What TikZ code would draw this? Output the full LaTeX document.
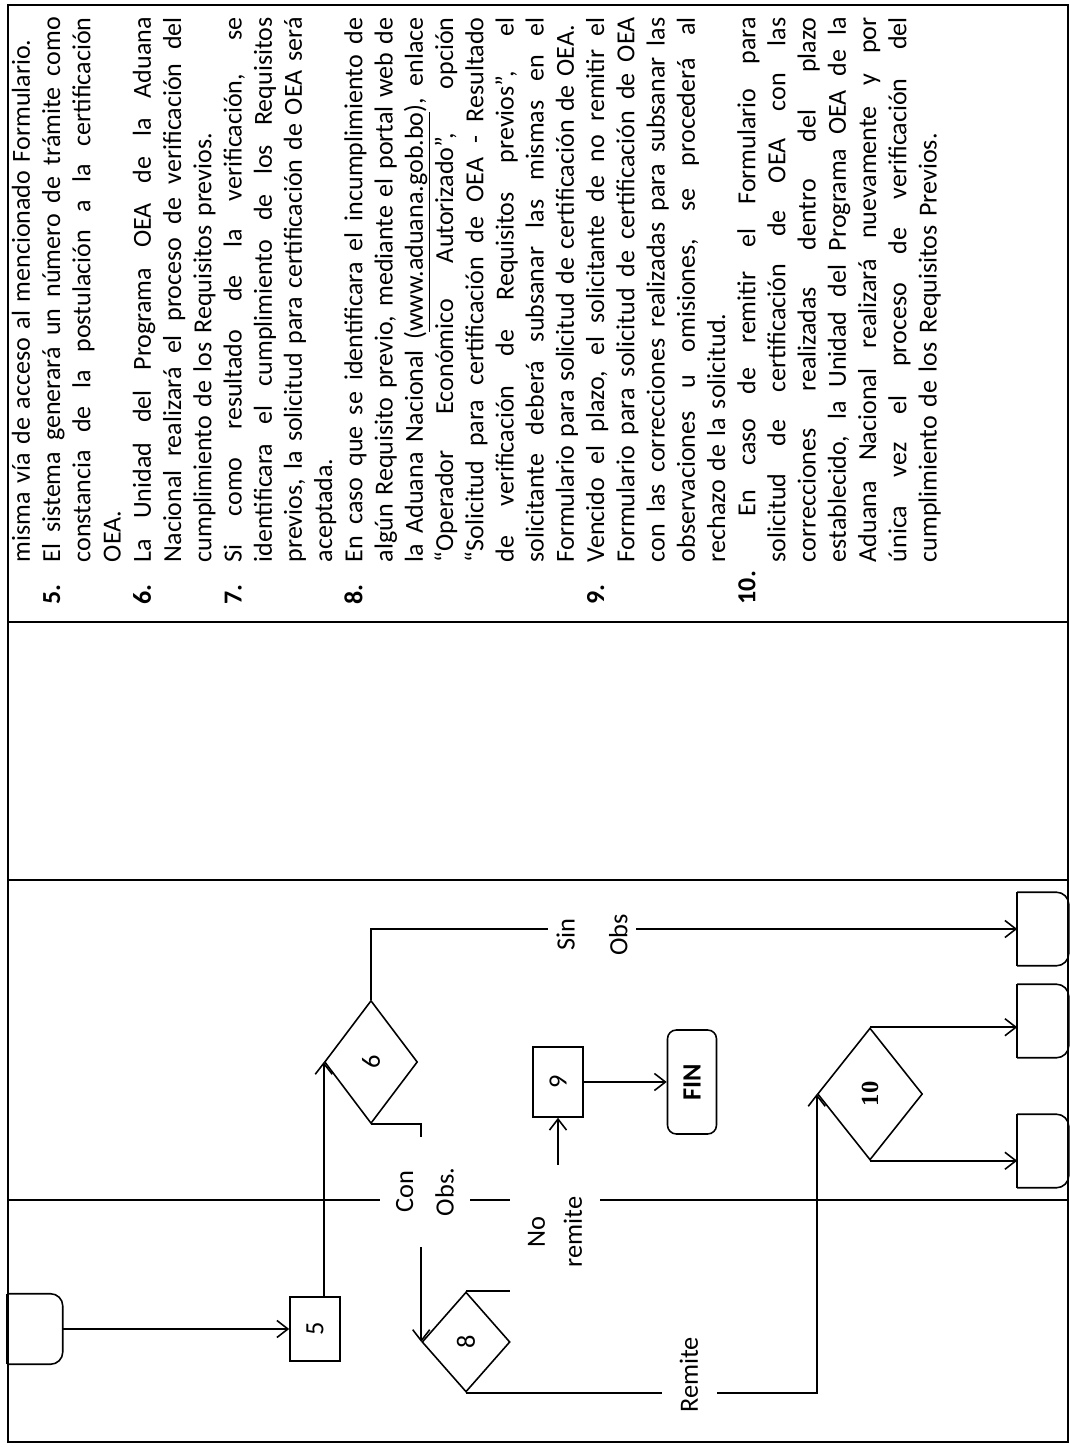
\documentclass[tikz,border=0pt]{standalone}
\usepackage{fontspec}
\setmainfont{Carlito}
\newfontfamily\numfont{Liberation Serif}
\usetikzlibrary{arrows.meta,shapes.geometric,calc,positioning}
\tikzset{every picture/.style={line width=0.9pt}}
\tikzset{
  tabla/.style={line width=1.6pt},
  carril/.style={line width=1.1pt},
  flecha/.style={-{Straight Barb[length=2.2mm,width=3.4mm]}},
  caja/.style={draw, rectangle, minimum width=1.4cm, minimum height=1cm, font=\fontsize{15}{18}\selectfont},
  decision/.style={draw, diamond, inner sep=0pt, font=\fontsize{15}{18}\selectfont},
  conector/.style={rectangle, minimum width=1.44cm, minimum height=1cm},
  etiqueta/.style={fill=white, align=center, inner sep=1pt, font=\fontsize{15}{18}\selectfont},
  fin/.style={draw, rectangle, rounded corners=5pt, minimum width=2.08cm, minimum height=0.98cm, font=\bfseries\fontsize{15}{18}\selectfont},
  descripcion/.style={text width=11.8cm, align=left, inner sep=0pt, font=\fontsize{14.8}{17.2}\selectfont},
}
% one justified line / one last line of a step
\newcommand{\jus}[2]{\makebox[0.84cm][l]{\textbf{#1}}\makebox[10.9cm][s]{\spaceskip=\fontdimen2\font plus 1fil\relax #2}}
\newcommand{\ult}[2]{\makebox[0.84cm][l]{\textbf{#1}}\makebox[10.9cm][l]{#2}}

\begin{document}
\begin{tikzpicture}[x=0.02cm, y=-0.02cm, rotate=90, transform shape]
    \useasboundingbox (0,0) rectangle (1447,1070);

    % Table
    \draw[tabla] (5,8) rectangle (1442,1068);
    \draw[tabla] (567,8) -- (567,1068);
    \draw[tabla] (825,8) -- (825,1068);
    \draw[carril] (247,8) -- (247,1068);

    % Flow
    \node[conector, minimum width=1.38cm, minimum height=1.08cm] (cin) at (118,35) {};
    \node[caja, minimum width=1.28cm] (b5) at (118,315) {5};
    \node[decision, minimum width=2.46cm, minimum height=1.86cm] (d6) at (385,371) {6};
    \node[decision, minimum width=2cm, minimum height=1.76cm] (d8) at (105,466) {8};
    \node[caja] (b9) at (365,558) {9};
    \node[fin] (fin) at (365,692) {FIN};
    \node[decision, minimum width=2.64cm, minimum height=2.1cm, font=\numfont\bfseries\fontsize{14}{17}\selectfont] (d10) at (353,870) {10};
    \node[conector] (cA) at (518,1043) {};
    \node[conector] (cB) at (426,1043) {};
    \node[conector] (cC) at (296,1043) {};

    % Connector outlines
    \foreach \c in {cin,cA,cB,cC} {
        \draw[rounded corners=7pt] (\c.north west) -- (\c.south west) -- (\c.south east) -- (\c.north east);
        \draw (\c.north west) -- (\c.north east);
    }

    % Arrows
    \draw[flecha] (cin) -- (b5);
    \draw[flecha] (b5.east |- d6.north) -- (d6.north);
    \draw[flecha] (d6.east) -| (cA.north);
    \draw[flecha] (d6.west) |- (d8.north);
    \draw[flecha] (d8.east) |- (b9.west);
    \draw[flecha] (b9) -- (fin);
    \draw[flecha] (d8.west) |- (d10.north);
    \draw[flecha] (d10.east) -- (d10.east |- cB.north);
    \draw[flecha] (d10.west) -- (d10.west |- cC.north);

    % Labels
    \node[etiqueta, minimum width=2.2cm, minimum height=1.8cm] (lcon) at (255,425) {Con\\[5pt]Obs.};
    \node[etiqueta, minimum width=2.7cm, minimum height=1.8cm] (lno) at (215,555) {No\\[3pt]remite};
    \node[etiqueta, minimum height=1.75cm] (lsin) at (512,592) {Sin\\[12pt]Obs};
    \node[etiqueta, minimum height=1.1cm] (lrem) at (72,689) {Remite};

    % Description
    \node[descripcion, anchor=base west] (texto) at (842,30) {%
        \ult{}{misma vía de acceso al mencionado Formulario.}\\
        \jus{5.}{El sistema generará un número de trámite como}\\
        \jus{}{constancia de la postulación a la certificación}\\
        \ult{}{OEA.}\\
        \jus{6.}{La Unidad del Programa OEA de la Aduana}\\
        \jus{}{Nacional realizará el proceso de verificación del}\\
        \ult{}{cumplimiento de los Requisitos previos.}\\
        \jus{7.}{Si como resultado de la verificación, se}\\
        \jus{}{identificara el cumplimiento de los Requisitos}\\
        \jus{}{previos, la solicitud para certificación de OEA será}\\
        \ult{}{aceptada.}\\
        \jus{8.}{En caso que se identificara el incumplimiento de}\\
        \jus{}{algún Requisito previo, mediante el portal web de}\\
        \jus{}{la Aduana Nacional (\underline{www.aduana.gob.bo}), enlace}\\
        \jus{}{``Operador Económico Autorizado'', opción}\\
        \jus{}{``Solicitud para certificación de OEA - Resultado}\\
        \jus{}{de verificación de Requisitos previos'', el}\\
        \jus{}{solicitante deberá subsanar las mismas en el}\\
        \ult{}{Formulario para solicitud de certificación de OEA.}\\
        \jus{9.}{Vencido el plazo, el solicitante de no remitir el}\\
        \jus{}{Formulario para solicitud de certificación de OEA}\\
        \jus{}{con las correcciones realizadas para subsanar las}\\
        \jus{}{observaciones u omisiones, se procederá al}\\
        \ult{}{rechazo de la solicitud.}\\
        \jus{10.}{\hspace*{0.92cm}En caso de remitir el Formulario para}\\
        \jus{}{solicitud de certificación de OEA con las}\\
        \jus{}{correcciones realizadas dentro del plazo}\\
        \jus{}{establecido, la Unidad del Programa OEA de la}\\
        \jus{}{Aduana Nacional realizará nuevamente y por}\\
        \jus{}{única vez el proceso de verificación del}\\
        \ult{}{cumplimiento de los Requisitos Previos.}};
\end{tikzpicture}
\end{document}
